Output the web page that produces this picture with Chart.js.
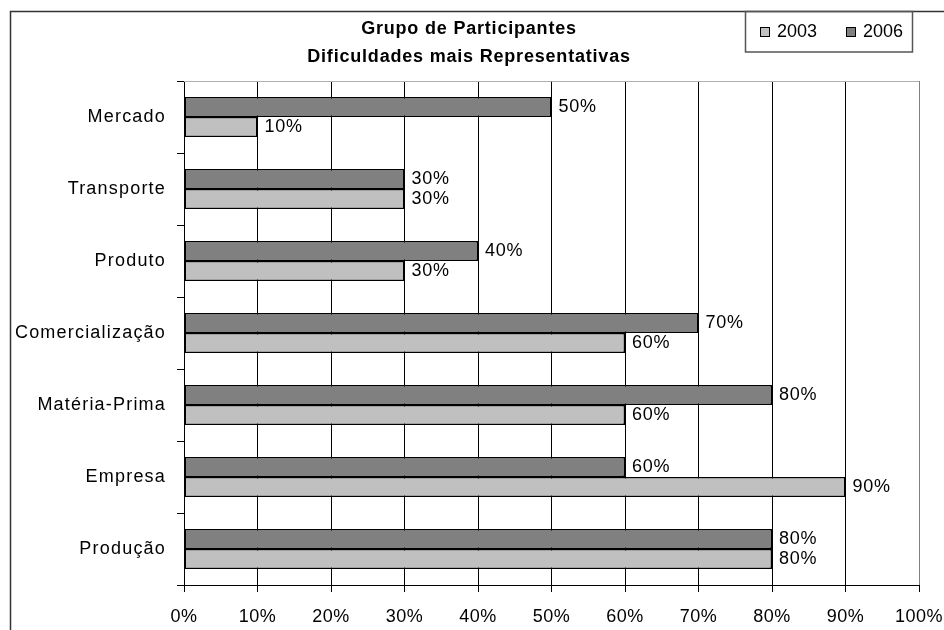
<!DOCTYPE html>
<html>
<head>
<meta charset="utf-8">
<script src="https://cdn.jsdelivr.net/npm/chart.js@4/dist/chart.umd.min.js"></script>
<style>
  html, body { margin: 0; padding: 0; background: #fff; }
  #wrap { width: 944px; height: 630px; position: relative; }
</style>
</head>
<body>
<div id="wrap"><canvas id="c"></canvas></div>
<script>
// Dificuldades por categoria (percentual de participantes)
const categories = ['Mercado', 'Transporte', 'Produto', 'Comercialização', 'Matéria-Prima', 'Empresa', 'Produção'];
const values2006 = [50, 30, 40, 70, 80, 60, 80];
const values2003 = [10, 30, 30, 60, 60, 90, 80];
const seriesNames = ['2003', '2006'];
const titleLines = ['Grupo de Participantes', 'Dificuldades mais Representativas'];

const FONT = '"Liberation Sans", Arial, Helvetica, sans-serif';
const COLOR_2003 = '#c0c0c0';
const COLOR_2006 = '#808080';

// Espaçamento entre letras por eixo
function spaceLabels(scale, spacing) {
  if (scale._spaced) return;
  const orig = scale.drawLabels.bind(scale);
  scale.drawLabels = function (area) {
    const ctx = this.ctx;
    const prev = ctx.letterSpacing;
    ctx.letterSpacing = spacing;
    orig(area);
    ctx.letterSpacing = prev;
  };
  scale._spaced = true;
}

// Moldura externa, título, legenda e borda da área de plotagem
const decorations = {
  id: 'decorations',
  beforeDraw(chart) {
    spaceLabels(chart.scales.y, '1.2px');
    spaceLabels(chart.scales.x, '0.5px');
  },
  beforeDatasetsDraw(chart) {
    const { ctx, chartArea: a } = chart;
    ctx.save();
    ctx.lineWidth = 1;
    ctx.strokeStyle = '#b0b0b0';
    ctx.beginPath();
    ctx.moveTo(a.left, a.top + 0.5);
    ctx.lineTo(a.right, a.top + 0.5);
    ctx.stroke();
    ctx.restore();
  },
  afterDraw(chart) {
    const { ctx } = chart;
    ctx.save();
    // moldura do gráfico
    ctx.strokeStyle = '#333';
    ctx.lineWidth = 1.5;
    ctx.strokeRect(10.5, 11.5, 1000, 700);

    // título
    ctx.fillStyle = '#000';
    ctx.font = 'bold 18px ' + FONT;
    ctx.letterSpacing = '0.8px';
    ctx.textAlign = 'center';
    ctx.textBaseline = 'middle';
    ctx.fillText(titleLines[0], 469, 29);
    ctx.fillText(titleLines[1], 469, 57);
    ctx.letterSpacing = '0px';

    // legenda
    ctx.strokeStyle = '#555';
    ctx.lineWidth = 1.5;
    ctx.strokeRect(745.5, 11.5, 167, 40.5);
    const items = [
      { label: seriesNames[0], color: COLOR_2003, box: 760, text: 777 },
      { label: seriesNames[1], color: COLOR_2006, box: 846, text: 863 }
    ];
    ctx.font = '18px ' + FONT;
    ctx.textAlign = 'left';
    items.forEach(it => {
      ctx.fillStyle = it.color;
      ctx.fillRect(it.box, 27, 9, 9);
      ctx.strokeStyle = '#000';
      ctx.lineWidth = 1;
      ctx.strokeRect(it.box + 0.5, 27.5, 9, 9);
      ctx.fillStyle = '#000';
      ctx.fillText(it.label, it.text, 32);
    });
    ctx.restore();
  }
};

// Rótulos de valor à direita de cada barra
const valueLabels = {
  id: 'valueLabels',
  afterDatasetsDraw(chart) {
    const { ctx } = chart;
    ctx.save();
    ctx.font = '18px ' + FONT;
    ctx.letterSpacing = '0.8px';
    ctx.fillStyle = '#000';
    ctx.textAlign = 'left';
    ctx.textBaseline = 'middle';
    chart.data.datasets.forEach((ds, di) => {
      chart.getDatasetMeta(di).data.forEach((bar, i) => {
        ctx.fillText(ds.data[i] + '%', bar.x + 7, bar.y);
      });
    });
    ctx.letterSpacing = '0px';
    ctx.restore();
  }
};

new Chart(document.getElementById('c'), {
  type: 'bar',
  data: {
    labels: categories,
    datasets: [
      { label: seriesNames[1], data: values2006, backgroundColor: COLOR_2006,
        borderColor: '#000', borderWidth: 1.5, borderSkipped: false },
      { label: seriesNames[0], data: values2003, backgroundColor: COLOR_2003,
        borderColor: '#000', borderWidth: 1.5, borderSkipped: false }
    ]
  },
  options: {
    indexAxis: 'y',
    responsive: true,
    maintainAspectRatio: false,
    devicePixelRatio: 1,
    animation: false,
    layout: { padding: { left: 0, top: 81, right: 25, bottom: 0 } },
    datasets: { bar: { categoryPercentage: 0.555, barPercentage: 1 } },
    plugins: {
      legend: { display: false },
      title: { display: false },
      tooltip: { enabled: false }
    },
    scales: {
      x: {
        min: 0, max: 100,
        afterFit(scale) {
          scale.height = 45;
          scale.paddingLeft = 0;
          scale.paddingRight = 0;
        },
        ticks: {
          stepSize: 10,
          padding: 14,
          color: '#000',
          font: { family: FONT, size: 18 },
          callback: v => v + '%'
        },
        grid: {
          color: ctx => (ctx.tick && ctx.tick.value === 100) ? '#808080' : '#000',
          lineWidth: 1,
          tickLength: 7,
          tickColor: '#000'
        },
        border: { color: '#000', width: 1 }
      },
      y: {
        afterFit(scale) {
          scale.width = 184;
          scale.paddingTop = 0;
          scale.paddingBottom = 0;
        },
        ticks: {
          padding: 11,
          color: '#000',
          font: { family: FONT, size: 18 }
        },
        grid: {
          offset: true,
          drawOnChartArea: false,
          tickLength: 7,
          tickColor: '#000'
        },
        border: { color: '#000', width: 1 }
      }
    }
  },
  plugins: [decorations, valueLabels]
});
</script>
</body>
</html>
